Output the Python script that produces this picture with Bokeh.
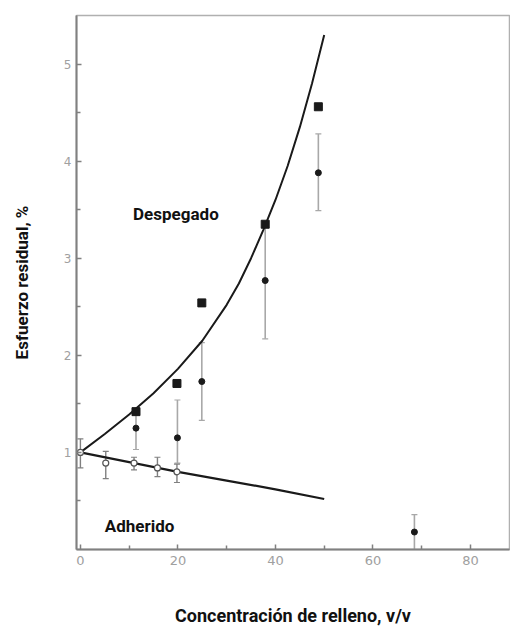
from bokeh.plotting import figure
from bokeh.models import Range1d, FixedTicker, ColumnDataSource, Whisker, TeeHead, Label
from bokeh.embed import file_html
from bokeh.resources import INLINE

# ---- data ----
curve_conc = [0, 5, 10, 15, 20, 25, 30, 32.5, 35, 37.5, 40, 42.5, 45, 47.5, 50]
despegado_curve = [1.0, 1.19, 1.39, 1.61, 1.86, 2.15, 2.52, 2.74, 3.0, 3.29, 3.6, 3.95, 4.35, 4.8, 5.3]

adh_conc = [0, 10, 20, 30, 40, 50]
adherido_curve = [1.0, 0.9, 0.8, 0.71, 0.62, 0.52]

square_conc = [11.4, 19.8, 24.9, 37.9, 48.8]
square_val = [1.42, 1.71, 2.54, 3.35, 4.56]

dot_conc = [11.4, 19.9, 24.9, 37.9, 48.8, 68.5]
dot_val = [1.25, 1.15, 1.73, 2.77, 3.88, 0.18]
dot_low = [1.03, 0.89, 1.33, 2.17, 3.49, 0.0]
dot_high = [1.45, 1.54, 2.13, 3.35, 4.28, 0.36]

open_conc = [0, 5.2, 11.0, 15.8, 19.8]
open_val = [1.0, 0.89, 0.89, 0.84, 0.80]
open_low = [0.84, 0.73, 0.82, 0.75, 0.69]
open_high = [1.14, 1.01, 0.95, 0.95, 0.88]

x_ticks = [0, 20, 40, 60, 80]
x_minor = [10, 30, 50, 70]
y_ticks = [1, 2, 3, 4, 5]
y_minor = [0.5, 1.5, 2.5, 3.5, 4.5]

region_names = ["Despegado", "Adherido"]
region_x = [10.8, 5.0]
region_y = [3.46, 0.24]

x_title = "Concentración de relleno, v/v"
y_title = "Esfuerzo residual, %"

TITLE_FONT = "Roboto"

p = figure(width=510, height=628, output_backend="svg", toolbar_location=None,
           x_range=Range1d(-0.8, 88), y_range=Range1d(0, 5.5),
           min_border_left=76, min_border_right=1, min_border_top=15, min_border_bottom=78)
p.grid.visible = False
p.background_fill_color = "white"
p.border_fill_color = "white"
p.outline_line_color = "#b0b0b0"
p.outline_line_width = 1.5

for ax in (p.xaxis[0], p.yaxis[0]):
    ax.axis_line_color = "#808080"
    ax.axis_line_width = 2
    ax.major_tick_line_color = "#808080"
    ax.minor_tick_line_color = "#808080"
    ax.major_tick_in = 5
    ax.major_tick_out = 0
    ax.minor_tick_in = 4
    ax.minor_tick_out = 0
    ax.major_tick_line_width = 1.5
    ax.minor_tick_line_width = 1.5
    ax.major_label_text_color = "#a0a0a0"
    ax.major_label_text_font = "DejaVu Sans"
    ax.axis_label_text_font = TITLE_FONT
    ax.axis_label_text_font_style = "bold"
    ax.axis_label_text_color = "#111111"

p.xaxis.ticker = FixedTicker(ticks=x_ticks, minor_ticks=x_minor)
p.yaxis.ticker = FixedTicker(ticks=y_ticks, minor_ticks=y_minor)
p.xaxis.major_label_text_font_size = "13px"
p.yaxis.major_label_text_font_size = "12px"
p.xaxis.major_label_standoff = 6
p.yaxis.major_label_standoff = 5

p.xaxis.axis_label = x_title
p.yaxis.axis_label = y_title
p.xaxis.axis_label_text_font_size = "18px"
p.yaxis.axis_label_text_font_size = "17px"
p.xaxis.axis_label_standoff = 37
p.yaxis.axis_label_standoff = 29

# curves
p.line(curve_conc, despegado_curve, line_color="#1a1a1a", line_width=2)
p.line(adh_conc, adherido_curve, line_color="#1a1a1a", line_width=2.2)

# error bars
dsrc = ColumnDataSource(dict(x=dot_conc, y=dot_val, lo=dot_low, hi=dot_high))
p.add_layout(Whisker(source=dsrc, base="x", lower="lo", upper="hi",
                     line_color="#a8a8a8", line_width=1.6,
                     upper_head=TeeHead(size=6, line_color="#a8a8a8", line_width=1.2),
                     lower_head=TeeHead(size=6, line_color="#a8a8a8", line_width=1.2)))
osrc = ColumnDataSource(dict(x=open_conc, y=open_val, lo=open_low, hi=open_high))
p.add_layout(Whisker(source=osrc, base="x", lower="lo", upper="hi",
                     line_color="#808080", line_width=1.4,
                     upper_head=TeeHead(size=6, line_color="#808080", line_width=1.2),
                     lower_head=TeeHead(size=6, line_color="#808080", line_width=1.2)))

# markers
p.scatter(square_conc, square_val, marker="square", size=8,
          fill_color="#1a1a1a", line_color="#1a1a1a")
p.scatter("x", "y", source=dsrc, marker="circle", size=6,
          fill_color="#1a1a1a", line_color="#1a1a1a")
p.scatter("x", "y", source=osrc, marker="circle", size=6,
          fill_color="white", line_color="#555555", line_width=1.2)

# region labels
for name, lx, ly in zip(region_names, region_x, region_y):
    p.add_layout(Label(x=lx, y=ly, text=name, text_font=TITLE_FONT,
                       text_font_style="bold", text_font_size="17px",
                       text_color="#111111", text_baseline="middle", text_align="left"))

open("out.html", "w").write(file_html(p, INLINE))
